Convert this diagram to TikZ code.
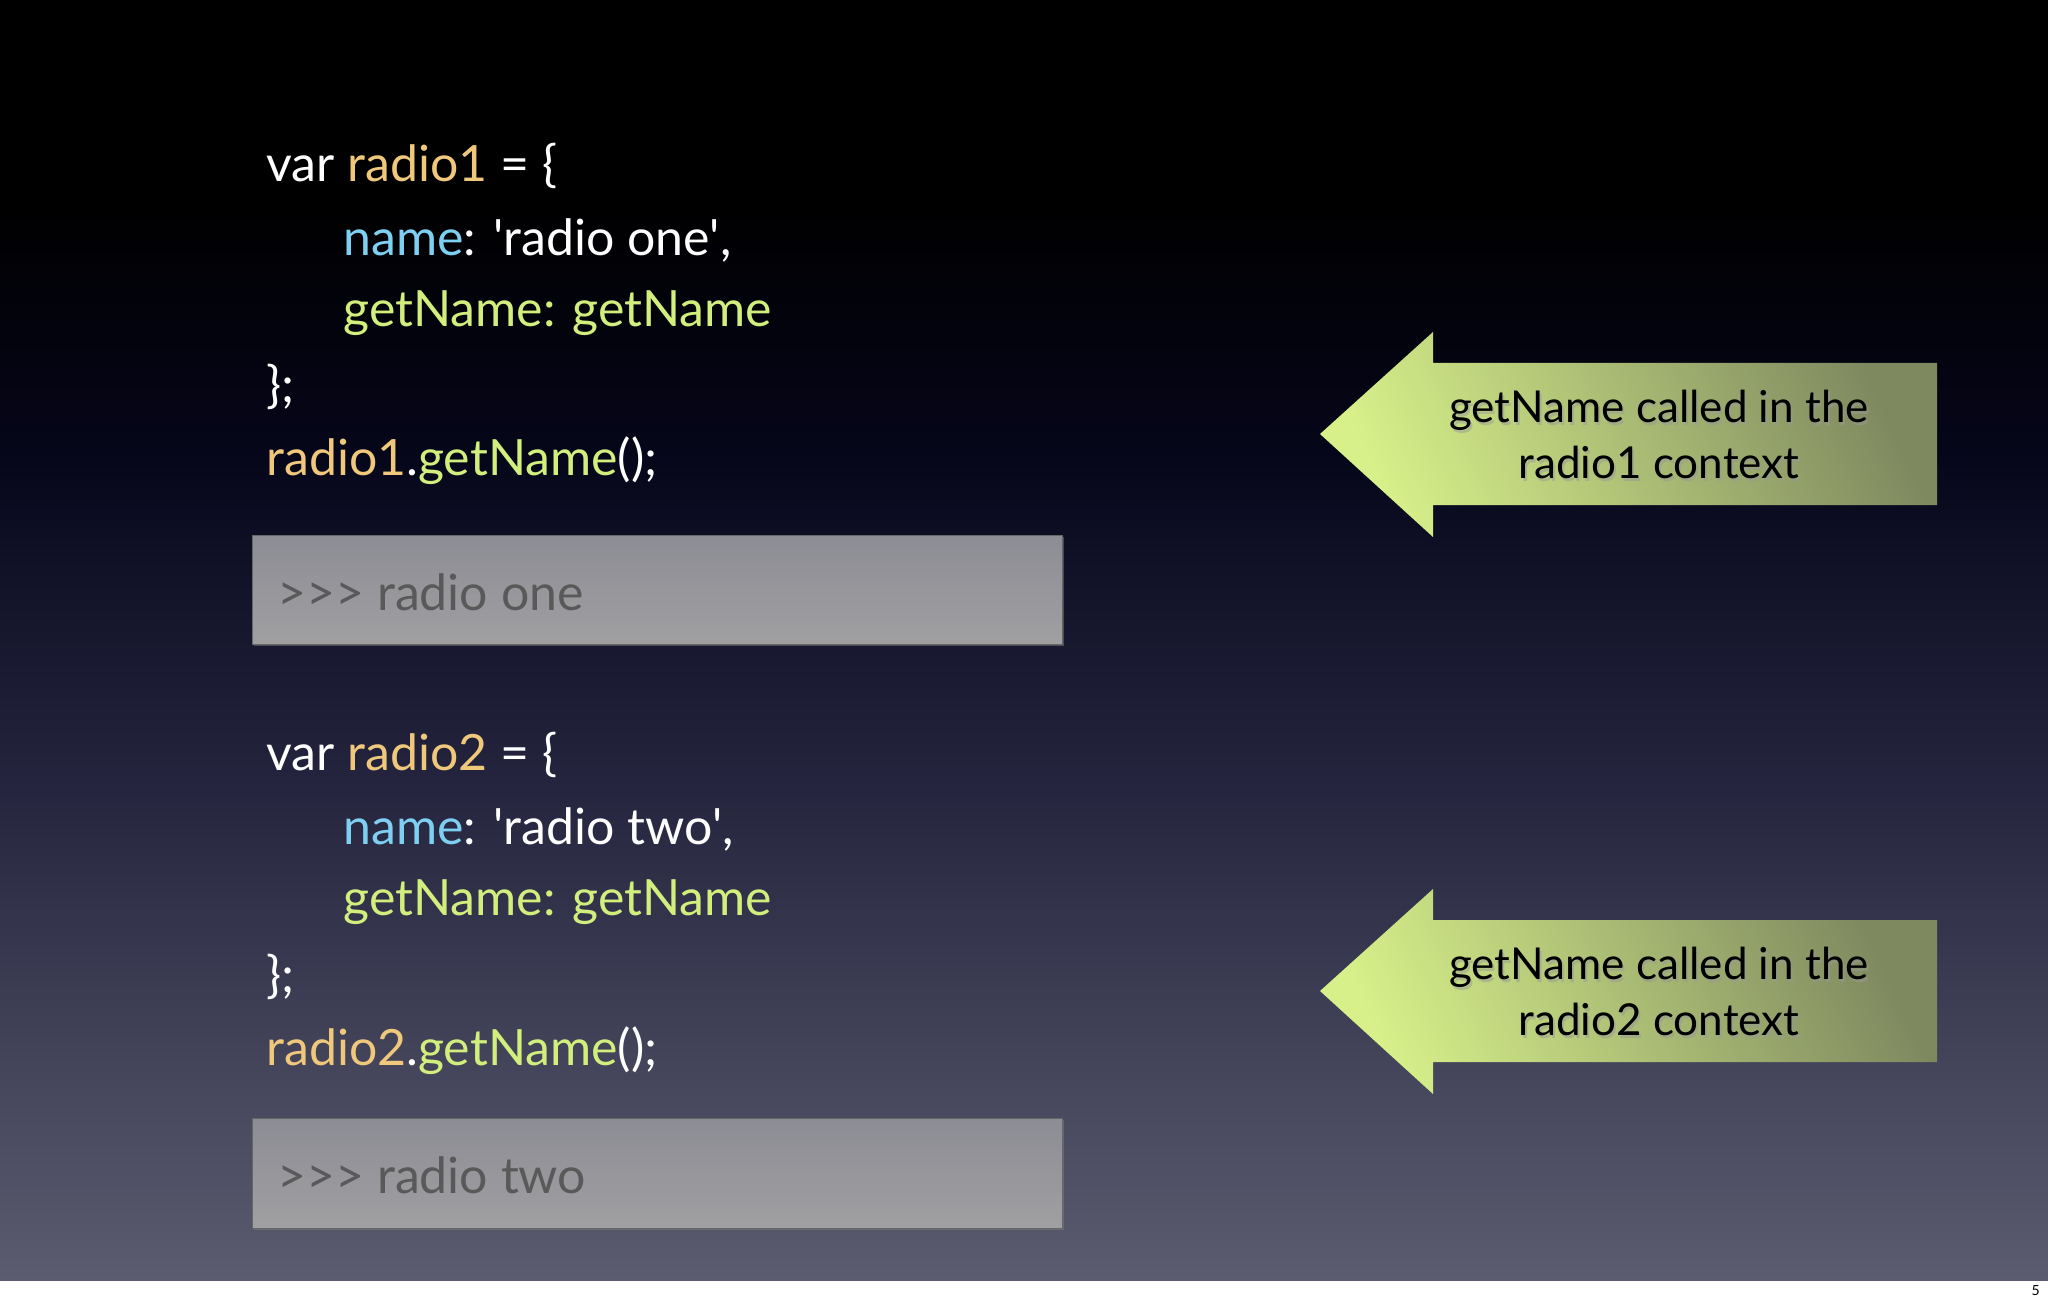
\documentclass[tikz,border=0pt]{standalone}
\usepackage{fontspec}
\setmainfont{Lato}
\usetikzlibrary{shadows}
\definecolor{vrc}{HTML}{F0C87C}
\definecolor{nmc}{HTML}{7ED0F2}
\definecolor{gnc}{HTML}{D2EE7C}
\definecolor{bgtop}{HTML}{000000}
\definecolor{bgq}{HTML}{06061A}
\definecolor{bgmid}{HTML}{24243E}
\definecolor{bgbot}{HTML}{5C5C70}
\definecolor{boxa}{HTML}{8C8C94}
\definecolor{boxb}{HTML}{A0A0A2}
\newcommand{\sq}{\textquotesingle}
\tikzset{
 code/.style={anchor=west,inner sep=0pt,font=\fontsize{25}{28}\selectfont,text=white},
 outbox/.style={draw=black!60,line width=0.4pt,top color=boxa,bottom color=boxb,drop shadow={opacity=0.5,shadow xshift=1pt,shadow yshift=-1pt}},
 outtxt/.style={anchor=west,inner sep=0pt,font=\fontsize{25}{28}\selectfont,text=black!65},
 arr/.style={shading=axis,left color=gnc!90!white,right color=gnc!45!black!80,shading angle=115},
 arrtxt/.style={align=center,inner sep=0pt,font=\fontsize{22}{28}\selectfont,text=black}
}
\begin{document}
\begin{tikzpicture}[x=0.5pt,y=-0.5pt]
\useasboundingbox (0,0) rectangle (2048,1304);
\fill[white] (0,0) rectangle (2048,1304);
\fill[bgtop] (0,0) rectangle (2048,201);
\shade[top color=bgtop,bottom color=bgq] (0,200) rectangle (2048,451);
\shade[top color=bgq,bottom color=bgmid] (0,450) rectangle (2048,781);
\shade[top color=bgmid,bottom color=bgbot] (0,780) rectangle (2048,1280);
\node[anchor=east,inner sep=0pt,font=\fontsize{7}{8}\selectfont] (pg) at (2040,1291) {5};
% block 1
\node[code] (a1) at (266,166) {var \textcolor{vrc}{radio1} = \{};
\node[code] (a2) at (343,240) {\textcolor{nmc}{name}: \sq radio one\sq,};
\node[code] (a3) at (343,313) {\textcolor{gnc}{getName: getName}};
\node[code] (a4) at (266,387) {\};};
\node[code] (a5) at (266,461) {\textcolor{vrc}{radio1}.\textcolor{gnc}{getName}();};
\draw[outbox] (252,535) rectangle (1062,644);
\node[outtxt] (o1) at (277,592) {>{}>{}> radio one};
% block 2
\node[code] (b1) at (266,755) {var \textcolor{vrc}{radio2} = \{};
\node[code] (b2) at (343,829) {\textcolor{nmc}{name}: \sq radio two\sq,};
\node[code] (b3) at (343,902) {\textcolor{gnc}{getName: getName}};
\node[code] (b4) at (266,977) {\};};
\node[code] (b5) at (266,1051) {\textcolor{vrc}{radio2}.\textcolor{gnc}{getName}();};
\draw[outbox] (252,1118) rectangle (1062,1228);
\node[outtxt] (o2) at (277,1175) {>{}>{}> radio two};
% arrows
\foreach \dy/\nm/\lbl in {0/c1/radio1,557/c2/radio2}{
 \shade[arr] (1320,434+\dy) -- (1433,332+\dy) -- (1433,363+\dy) -- (1937,363+\dy) -- (1937,505+\dy) -- (1433,505+\dy) -- (1433,537+\dy) -- cycle;
 \node[arrtxt,text=black!40,opacity=0.5] at (1661,437+\dy) {getName called in the\\ \lbl\ context};
 \node[arrtxt] (\nm) at (1659,434+\dy) {getName called in the\\ \lbl\ context};
}
\end{tikzpicture}
\end{document}
